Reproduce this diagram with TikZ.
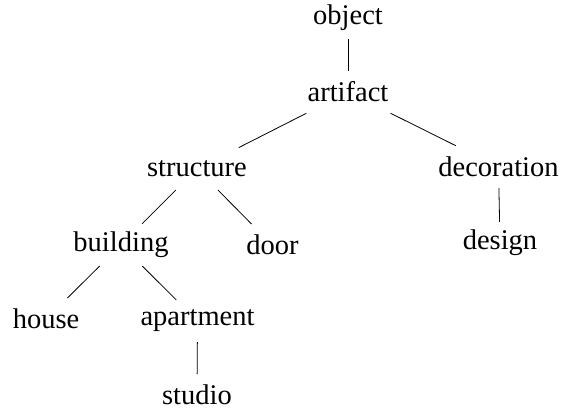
\documentclass[tikz,border=0pt]{standalone}
\usepackage{fontspec}
\setmainfont{Liberation Serif}
\begin{document}
\begin{tikzpicture}[x=1pt,y=-1pt,
  term/.style={anchor=base,inner sep=2pt,minimum height=42pt,
    font=\fontsize{28.5}{34}\selectfont},
  link/.style={draw=black,line width=0.8pt}]
\useasboundingbox (0,0) rectangle (563,414);
% concepts, placed on their baselines
\node[term] (object)     at (348,25)    {object};
\node[term] (artifact)   at (348,102)   {artifact};
\node[term] (structure)  at (197,176.7) {structure};
\node[term] (decoration) at (498.5,176.7) {decoration};
\node[term] (building)   at (121,251.7) {building};
\node[term] (door)       at (272.5,255) {door};
\node[term] (design)     at (500,250)   {design};
\node[term] (house)      at (46,329)    {house};
\node[term] (apartment)  at (197.5,326) {apartment};
\node[term] (studio)     at (197,405)   {studio};
% hypernym links
\path[link] (object) -- (artifact);
\path[link] (artifact) -- (structure);
\path[link] (artifact) -- (decoration);
\path[link] (structure) -- (building);
\path[link] (structure) -- (door);
\path[link] (decoration) -- (design);
\path[link] (building) -- (house);
\path[link] (building) -- (apartment);
\path[link] (apartment) -- (studio);
\end{tikzpicture}
\end{document}
